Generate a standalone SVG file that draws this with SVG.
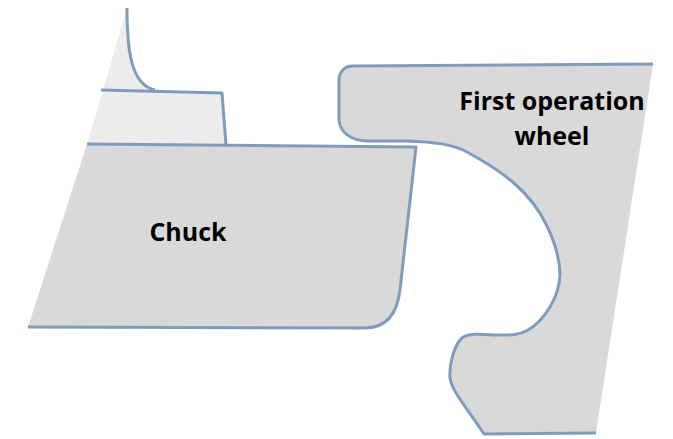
<svg xmlns="http://www.w3.org/2000/svg" width="673" height="439" viewBox="0 0 673 439">
<style>
.edge{fill:none;stroke:#7f9dbb;stroke-width:3;stroke-linejoin:round;stroke-linecap:butt}
.dark{fill:#d9d9d9;stroke:none}
.light{fill:#ececec;stroke:none}
text{font-family:"Open Sans","Noto Sans","Liberation Sans",sans-serif;font-weight:700;font-size:25px;fill:#000;text-anchor:middle}
</style>
<rect width="673" height="439" fill="#fff"/>
<g id="workpiece">
<path class="light" d="M127 8C127 50 131 85 155 90L222 93L226 145L87 144Z"/>
</g>
<g id="chuck">
<path class="dark" d="M87 144L416 147L400 290C397 315 385 328 365 328L28 327Z"/>
<text x="188" y="241">Chuck</text>
</g>
<g id="first-operation-wheel">
<path class="dark" d="M653 64L352 66C345 66 339 72 339 80L339 120C340 133 352 141 368 141L405 141C435 142 452 144 467 152C500 170 530 190 547 226C556 245 560 260 560 275C559 297 545 320 528 330C518 336 508 335 495 335C480 334 468 333 462 338C454 345 449 365 450 378C452 392 470 412 484 434L596 433Z"/>
<text x="552" y="110">First operation</text>
<text x="552" y="145">wheel</text>
</g>
<g id="connectors">
<path class="edge" d="M127 8C127 50 131 85 155 90"/>
<path class="edge" d="M101 90L222 93L226 145"/>
<path class="edge" d="M87 144L416 147L400 290C397 315 385 328 365 328L28 327"/>
<path class="edge" d="M653 64L352 66C345 66 339 72 339 80L339 120C340 133 352 141 368 141L405 141C435 142 452 144 467 152C500 170 530 190 547 226C556 245 560 260 560 275C559 297 545 320 528 330C518 336 508 335 495 335C480 334 468 333 462 338C454 345 449 365 450 378C452 392 470 412 484 434L596 433"/>
</g>
</svg>
